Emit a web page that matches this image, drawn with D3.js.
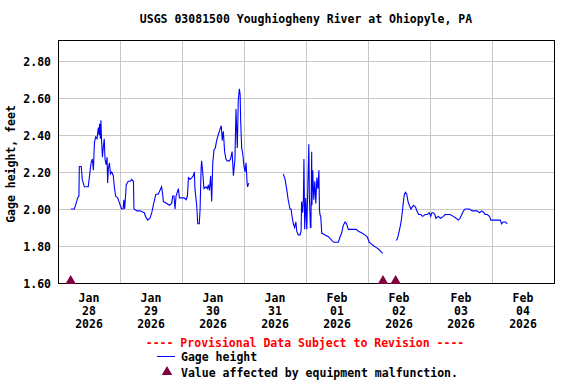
<!DOCTYPE html>
<head>
  <meta charset="utf-8">
  <script src="https://unpkg.com/d3@7/dist/d3.min.js"></script>
  <style>
    body { margin:0; background:#fff; }
    text { font-family:"DejaVu Sans Mono", monospace; font-weight:bold; font-size:11.5px; }
  </style>
</head>

<body>
  <svg width="576" height="384"></svg>
  <script>
    var chartTitle = "USGS 03081500 Youghiogheny River at Ohiopyle, PA";
    var yLabel = "Gage height, feet";
    var startDay = Date.UTC(2026, 0, 28);
    var dayCount = 8;
    var dayLabels = [
      ["Jan", "28", "2026"], ["Jan", "29", "2026"], ["Jan", "30", "2026"], ["Jan", "31", "2026"],
      ["Feb", "01", "2026"], ["Feb", "02", "2026"], ["Feb", "03", "2026"], ["Feb", "04", "2026"]
    ];
    var yTicks = [1.60, 1.80, 2.00, 2.20, 2.40, 2.60, 2.80];

    // hours since Jan 28 00:00, null value = gap in record
    var obsHours = [
      5.0, 6.3, 6.8, 7.6, 8.1, 8.25, 9.0, 9.4, 10.2, 11.7, 12.3, 12.8, 13.3, 13.7, 14.1, 14.6,
      15.1, 15.6, 15.9, 16.1, 16.4, 16.6, 16.9, 17.2, 17.5, 17.9, 18.2, 18.6, 19.0, 19.2, 19.5, 19.9,
      20.3, 20.8, 21.4, 21.8, 22.3, 23.1, 23.6, 24.1, 24.6, 25.2, 25.5, 25.8, 26.2, 26.4, 27.2, 28.0,
      28.5, 29.2, 29.4, 30.5, 31.7, 33.4, 33.9, 34.7, 35.6, 36.3, 37.2, 37.9, 38.8, 40.1, 40.5, 40.8,
      42.1, 43.1, 44.0, 44.4, 44.9, 45.3, 45.7, 46.6, 47.0, 47.9, 48.8, 49.6, 50.1, 50.5, 51.1, 51.8,
      52.4, 52.8, 53.0, 53.7, 54.1, 54.7, 55.0, 55.4, 55.6, 56.0, 56.5, 57.3, 57.8, 58.2, 58.6, 59.1,
      59.5, 59.9, 60.4, 60.9, 61.4, 62.0, 62.7, 63.2, 63.6, 64.0, 64.5, 65.0, 65.5, 66.3, 66.8, 67.4,
      67.9, 68.5, 68.9, 69.4, 69.8, 70.2, 70.5, 70.7, 71.1, 71.5, 72.0, 72.4, 72.8, 73.2, 73.4, 73.8,
      80,
      87.2, 87.9, 88.5, 89.1, 89.8, 90.2, 90.6, 91.1, 91.6, 92.1, 92.4, 93.0, 93.7, 94.1, 94.3, 94.7,
      95.0, 95.2, 95.5, 95.9, 96.3, 96.7, 97.1, 97.3, 97.7, 97.9, 98.2, 98.3, 98.6, 99.0, 99.4, 99.8,
      100.2, 100.6, 101.0, 101.2, 101.4, 101.7, 102.1, 103.4, 104.7, 106.0, 106.8, 108.5, 109.2, 109.8,
      110.4, 111.1, 111.7, 112.4, 113.0, 114.3, 115.4, 116.3, 117.6, 118.8, 119.7, 120.5, 121.4, 122.3,
      123.4, 124.4, 125.0, 125.7,
      128,
      130.9, 131.4, 131.9, 132.4, 132.9, 133.4, 133.7, 134.1, 134.5, 135.0, 135.5, 136.0, 136.6, 137.1,
      137.6, 138.4, 138.9, 139.6, 140.4, 141.2, 142.1, 143.0, 143.7, 144.3, 144.7, 145.3, 145.9, 146.3,
      147.2, 148.1, 149.2, 149.8, 150.7, 151.8, 153.0, 154.1, 155.0, 155.6, 156.3, 157.0, 157.6, 158.3,
      159.3, 160.3, 161.2, 162.2, 163.2, 164.0, 164.9, 165.3, 166.2, 167.0, 167.6, 168.6, 169.7, 170.5,
      171.2, 171.7, 172.3, 173.2, 173.9
    ];
    var gageFeet = [
      2.00, 2.00, 2.02, 2.06, 2.07, 2.23, 2.23, 2.16, 2.12, 2.12, 2.19, 2.25, 2.27, 2.21, 2.36, 2.39,
      2.38, 2.44, 2.40, 2.46, 2.38, 2.48, 2.36, 2.28, 2.33, 2.38, 2.27, 2.24, 2.28, 2.14, 2.22, 2.25,
      2.19, 2.20, 2.18, 2.12, 2.07, 2.06, 2.04, 2.02, 2.00, 2.00, 2.05, 2.00, 2.08, 2.13, 2.15, 2.15,
      2.16, 2.15, 2.00, 1.99, 1.99, 1.98, 1.96, 1.94, 1.95, 1.98, 2.04, 2.08, 2.08, 2.12, 2.08, 2.04,
      2.03, 2.02, 2.03, 2.07, 2.07, 2.00, 2.07, 2.11, 2.06, 2.06, 2.06, 2.05, 2.07, 2.17, 2.16, 2.17,
      2.18, 2.20, 2.11, 2.02, 1.92, 1.92, 2.00, 2.22, 2.26, 2.20, 2.11, 2.12, 2.11, 2.13, 2.10, 2.18,
      2.04, 2.25, 2.32, 2.33, 2.37, 2.40, 2.43, 2.45, 2.37, 2.42, 2.31, 2.27, 2.26, 2.26, 2.27, 2.31,
      2.18, 2.27, 2.54, 2.33, 2.59, 2.65, 2.62, 2.48, 2.33, 2.30, 2.23, 2.20, 2.25, 2.14, 2.12, 2.14,
      null,
      2.19, 2.16, 2.11, 2.05, 2.00, 2.00, 1.96, 1.92, 1.90, 1.93, 1.88, 1.86, 1.86, 1.88, 2.04, 1.98,
      2.06, 2.27, 1.89, 2.06, 1.89, 2.12, 2.35, 2.07, 1.90, 1.90, 2.31, 2.02, 2.21, 2.05, 2.15, 2.03,
      2.17, 2.11, 2.21, 2.00, 1.97, 1.96, 1.87, 1.86, 1.85, 1.83, 1.82, 1.82, 1.85, 1.87,
      1.91, 1.93, 1.92, 1.89, 1.89, 1.89, 1.89, 1.88, 1.87, 1.86, 1.85, 1.82, 1.81, 1.80,
      1.79, 1.78, 1.77, 1.76,
      null,
      1.83, 1.84, 1.87, 1.90, 1.94, 2.00, 2.04, 2.08, 2.09, 2.08, 2.04, 2.02, 2.00, 2.01,
      2.02, 2.01, 1.99, 1.97, 1.97, 1.96, 1.97, 1.97, 1.98, 1.96, 1.98, 1.98, 1.97, 1.95,
      1.96, 1.95, 1.96, 1.97, 1.97, 1.97, 1.96, 1.95, 1.94, 1.95, 1.97, 1.99, 2.00, 2.00,
      2.00, 1.99, 1.99, 1.99, 1.98, 1.99, 1.98, 1.97, 1.97, 1.96, 1.94, 1.94, 1.94, 1.94,
      1.94, 1.92, 1.93, 1.93, 1.92
    ];
    var flagHours = [4.9, 125.8, 130.7];

    var svg = d3.select("svg"),
        plotLeft = 58, plotRight = 554, plotTop = 40, plotBottom = 283;
    var hourMs = 3600 * 1000;

    var x = d3.scaleUtc()
      .domain([new Date(startDay), new Date(startDay + dayCount * 24 * hourMs)])
      .range([plotLeft, plotRight]);
    var y = d3.scaleLinear()
      .domain([1.60, 2.9135])
      .range([plotBottom, plotTop]);

    var data = obsHours.map(function (h, i) {
      return { t: new Date(startDay + h * hourMs), v: gageFeet[i] };
    });

    svg.append("rect").attr("width", 576).attr("height", 384).attr("fill", "#fff");

    // title
    svg.append("text")
      .attr("x", 306).attr("y", 23)
      .attr("text-anchor", "middle")
      .text(chartTitle);

    // grid
    var midnights = d3.range(1, dayCount).map(function (d) { return new Date(startDay + d * 24 * hourMs); });
    svg.append("g").selectAll("line").data(midnights).enter().append("line")
      .attr("x1", function (d) { return Math.round(x(d)) + 0.5; })
      .attr("x2", function (d) { return Math.round(x(d)) + 0.5; })
      .attr("y1", plotTop).attr("y2", plotBottom)
      .attr("stroke", "#c8c8c8");
    svg.append("g").selectAll("line").data(yTicks.slice(1)).enter().append("line")
      .attr("x1", plotLeft).attr("x2", plotRight)
      .attr("y1", function (d) { return Math.round(y(d)) + 0.5; })
      .attr("y2", function (d) { return Math.round(y(d)) + 0.5; })
      .attr("stroke", "#c8c8c8");

    // y axis labels
    var yAxis = svg.append("g")
      .attr("transform", "translate(" + (plotLeft - 7) + ",0)")
      .call(d3.axisLeft(y).tickValues(yTicks).tickSize(0).tickFormat(d3.format(".2f")));
    yAxis.select(".domain").remove();
    yAxis.selectAll("text").attr("x", 0).attr("dy", "0.35em").attr("fill", "#000")
      .style("font-size", "11.5px").style("font-family", "DejaVu Sans Mono");

    svg.append("text")
      .attr("transform", "translate(15,164) rotate(-90)")
      .attr("text-anchor", "middle")
      .text(yLabel);

    // x axis labels (noon of each day)
    var noons = d3.range(dayCount).map(function (d) { return new Date(startDay + (d * 24 + 12) * hourMs); });
    var xl = svg.append("g").selectAll("text").data(noons).enter().append("text")
      .attr("text-anchor", "middle")
      .attr("x", function (d) { return x(d); })
      .attr("y", 302);
    xl.each(function (d, i) {
      var t = d3.select(this);
      dayLabels[i].forEach(function (s, j) {
        t.append("tspan").attr("x", x(d)).attr("y", 302 + j * 13).text(s);
      });
    });

    // gage line
    var line = d3.line()
      .defined(function (d) { return d.v != null; })
      .x(function (d) { return x(d.t); })
      .y(function (d) { return y(d.v); });
    svg.append("path")
      .datum(data)
      .attr("fill", "none")
      .attr("stroke", "#0000ff")
      .attr("stroke-width", 1.1)
      .attr("d", line);

    // frame
    svg.append("rect")
      .attr("x", plotLeft + 0.5).attr("y", plotTop + 0.5)
      .attr("width", plotRight - plotLeft).attr("height", plotBottom - plotTop)
      .attr("fill", "none").attr("stroke", "#000");

    // equipment malfunction flags
    var tri = d3.symbol().type(d3.symbolTriangle).size(48);
    svg.append("g").selectAll("path").data(flagHours).enter().append("path")
      .attr("d", tri)
      .attr("transform", function (h) {
        return "translate(" + x(new Date(startDay + h * hourMs)) + "," + (plotBottom - 2) + ")";
      })
      .attr("fill", "#800040");

    // legend
    svg.append("text")
      .attr("x", 305).attr("y", 347)
      .attr("text-anchor", "middle")
      .attr("fill", "#ff0000")
      .text("---- Provisional Data Subject to Revision ----");
    svg.append("line")
      .attr("x1", 157).attr("x2", 175).attr("y1", 356.5).attr("y2", 356.5)
      .attr("stroke", "#0000ff");
    svg.append("text").attr("x", 181).attr("y", 361).text("Gage height");
    svg.append("path")
      .attr("d", tri)
      .attr("transform", "translate(167,372)")
      .attr("fill", "#800040");
    svg.append("text").attr("x", 181).attr("y", 377).text("Value affected by equipment malfunction.");
  </script>
</body>
